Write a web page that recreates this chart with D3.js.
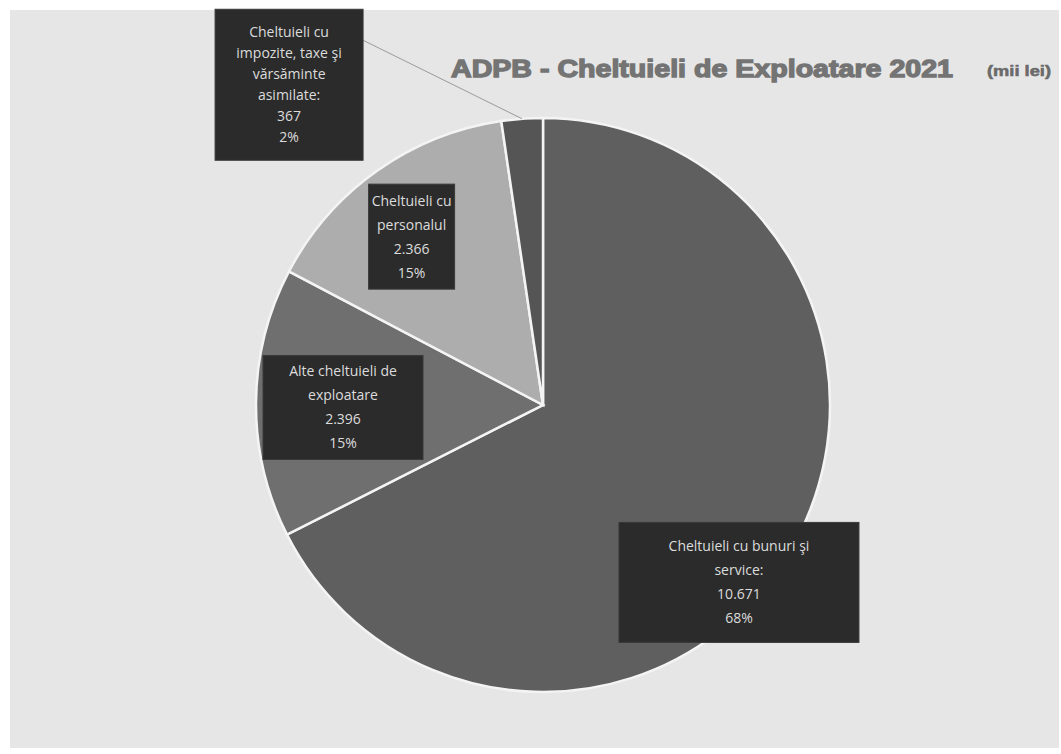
<!DOCTYPE html>
<html>
<head>
<meta charset="utf-8">
<script src="https://cdn.jsdelivr.net/npm/d3@7"></script>
<style>
    body { margin: 0; background: #fff; }
    svg { display: block; }
</style>
</head>
<body>
<svg id="chart" width="1061" height="754"></svg>
<script>
// datele graficului (mii lei)
const categories = [
    "Cheltuieli cu bunuri şi service:",
    "Alte cheltuieli de exploatare",
    "Cheltuieli cu personalul",
    "Cheltuieli cu impozite, taxe şi vărsăminte asimilate:"
];
const values = [10671, 2396, 2366, 367];
const sliceColors = ["#5f5f5f", "#6f6f6f", "#adadad", "#555555"];

const titleText = "ADPB - Cheltuieli de Exploatare 2021";
const unitText = "(mii lei)";

// pozitia etichetelor fata de centroid (raza, deplasare) si marimea casetei
const labelPlacement = [
    { r: 230, dx: 0, dy: 57, w: 240, h: 120, wrap: 170 },
    { r: 200, dx: 0, dy: 4, w: 160, h: 104, wrap: 155 },
    { r: 210, dx: -10, dy: 3, w: 86, h: 105, wrap: 84 },
    { r: 287, dx: -233, dy: -34, w: 148, h: 151, wrap: 134, leader: true }
];

const width = 1061, height = 754;
const cx = 543, cy = 405, radius = 287;

const svg = d3.select("#chart");

svg.append("rect")
    .attr("x", 10).attr("y", 10)
    .attr("width", width - 12).attr("height", height - 16)
    .attr("fill", "#e6e6e6");

const ro = d3.formatLocale({ decimal: ",", thousands: ".", grouping: [3], currency: ["", ""] });
const fmtVal = ro.format(",d");
const total = d3.sum(values);
const fmtPct = v => Math.round(v / total * 100) + "%";

const data = categories.map((c, i) => ({ name: c, value: values[i], color: sliceColors[i], place: labelPlacement[i] }));

const pie = d3.pie().value(d => d.value).sort(null);
const arcs = pie(data);
const arc = d3.arc().innerRadius(0).outerRadius(radius);

const g = svg.append("g").attr("transform", `translate(${cx},${cy})`);

g.selectAll(".slice")
    .data(arcs)
    .enter()
    .append("path")
    .attr("class", "slice")
    .attr("d", arc)
    .attr("fill", d => d.data.color)
    .attr("stroke", "#f4f4f4")
    .attr("stroke-width", 2.5);

// etichete
arcs.forEach(d => {
    const p = d.data.place;
    const mid = (d.startAngle + d.endAngle) / 2;
    const ax = Math.sin(mid) * p.r, ay = -Math.cos(mid) * p.r;
    const bx = ax + p.dx, by = ay + p.dy;

    if (p.leader) {
        g.append("line")
            .attr("x1", bx + p.w / 2).attr("y1", by - p.h / 2 + 31)
            .attr("x2", Math.sin(mid) * radius).attr("y2", -Math.cos(mid) * radius)
            .attr("stroke", "#9a9a9a")
            .attr("stroke-width", 1);
    }

    const lg = g.append("g").attr("transform", `translate(${bx},${by})`);
    lg.append("rect")
        .attr("x", -p.w / 2).attr("y", -p.h / 2)
        .attr("width", p.w).attr("height", p.h)
        .attr("fill", "#2b2b2b")
        .attr("stroke", "#3a3a3a");

    // impartire pe randuri dupa latime
    const txt = lg.append("text")
        .attr("text-anchor", "middle")
        .style("font-family", "'Open Sans', sans-serif")
        .style("font-size", "14px")
        .attr("fill", "#dcdcdc");
    const words = d.data.name.split(" ");
    const lines = [];
    let cur = "";
    const probe = txt.append("tspan");
    words.forEach(w => {
        const test = cur ? cur + " " + w : w;
        probe.text(test);
        if (probe.node().getComputedTextLength() > p.wrap && cur) {
            lines.push(cur);
            cur = w;
        } else {
            cur = test;
        }
    });
    lines.push(cur);
    probe.remove();
    lines.push(fmtVal(d.data.value));
    lines.push(fmtPct(d.data.value));

    const lh = lines.length > 4 ? 21 : 24;
    const y0 = -(lines.length - 1) * lh / 2 + 5;
    lines.forEach((l, i) => {
        txt.append("tspan")
            .attr("x", 0)
            .attr("y", y0 + i * lh)
            .text(l);
    });
});

// titlu
svg.append("text")
    .attr("x", 451).attr("y", 77)
    .attr("textLength", 502)
    .attr("lengthAdjust", "spacingAndGlyphs")
    .style("font-family", "'Liberation Sans', Arial, sans-serif")
    .style("font-weight", "bold")
    .style("font-size", "24px")
    .attr("fill", "#747474")
    .attr("stroke", "#747474")
    .attr("stroke-width", 1.3)
    .text(titleText);

svg.append("text")
    .attr("x", 987).attr("y", 76)
    .attr("textLength", 64)
    .attr("lengthAdjust", "spacingAndGlyphs")
    .style("font-family", "'Liberation Sans', Arial, sans-serif")
    .style("font-weight", "bold")
    .style("font-size", "14px")
    .attr("fill", "#6a6a6a")
    .attr("stroke", "#6a6a6a")
    .attr("stroke-width", 0.5)
    .text(unitText);
</script>
</body>
</html>
